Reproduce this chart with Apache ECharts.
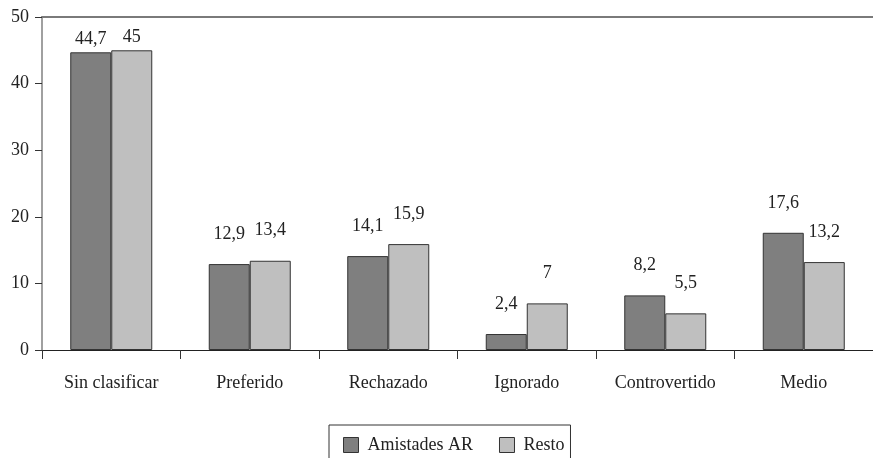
<!DOCTYPE html>
<html>
<head>
<meta charset="utf-8">
<script src="https://cdn.jsdelivr.net/npm/echarts@6/dist/echarts.min.js"></script>
<style>
  html, body { margin: 0; padding: 0; background: #fff; }
  #chart { width: 873px; height: 458px; }
</style>
</head>
<body>
<div id="chart"></div>
<script>
// Categories and series values (percentages)
const categories = ['Sin clasificar', 'Preferido', 'Rechazado', 'Ignorado', 'Controvertido', 'Medio'];
const amistadesAR = [44.7, 12.9, 14.1, 2.4, 8.2, 17.6];
const resto = [45, 13.4, 15.9, 7, 5.5, 13.2];
const yTicks = [0, 10, 20, 30, 40, 50];

const FONT = '"Liberation Serif", "Times New Roman", serif';
const fmt = v => String(v).replace('.', ',');

// labels of tall bars sit closer so they stay under the top frame line
function withLabels(values) {
  return values.map(v => ({
    value: v,
    label: { distance: v > 40 ? 4 : 21 }
  }));
}

function barSeries(name, values, color) {
  return {
    name: name,
    type: 'bar',
    data: withLabels(values),
    barWidth: 41,
    barGap: '0%',
    itemStyle: { color: color, borderColor: '#333', borderWidth: 1 },
    label: {
      show: true,
      position: 'top',
      formatter: p => fmt(p.value),
      color: '#222',
      fontFamily: FONT,
      fontSize: 18
    },
    emphasis: { disabled: true }
  };
}

const chart = echarts.init(document.getElementById('chart'), null, { renderer: 'canvas' });
chart.setOption({
  animation: false,
  backgroundColor: '#fff',
  grid: { left: 42, right: -9, top: 17, bottom: 108, containLabel: false },
  legend: {
    data: ['Amistades AR', 'Resto'],
    left: 329,
    top: 425,
    icon: 'rect',
    itemWidth: 15,
    itemHeight: 15,
    itemGap: 26,
    padding: [11, 6, 20, 14],
    borderColor: '#333',
    borderWidth: 1,
    textStyle: { fontFamily: FONT, fontSize: 18, color: '#222', padding: [0, 0, 0, 4] },
    itemStyle: { borderColor: '#333', borderWidth: 1 }
  },
  xAxis: [
    {
      type: 'category',
      data: categories,
      boundaryGap: true,
      axisLine: { lineStyle: { color: '#222', width: 1 } },
      axisTick: { show: true, length: 9, lineStyle: { color: '#333' } },
      axisLabel: { margin: 24, fontFamily: FONT, fontSize: 18, color: '#222' }
    },
    {
      type: 'category',
      position: 'top',
      data: categories,
      axisLine: { lineStyle: { color: '#7a7a7a', width: 2 } },
      axisTick: { show: false },
      axisLabel: { show: false }
    }
  ],
  yAxis: {
    type: 'value',
    min: yTicks[0],
    max: yTicks[yTicks.length - 1],
    interval: 10,
    axisLine: { show: true, lineStyle: { color: '#808080', width: 1.5 } },
    axisTick: { show: true, length: 7, lineStyle: { color: '#333' } },
    axisLabel: { margin: 13, fontFamily: FONT, fontSize: 18, color: '#222' },
    splitLine: { show: false }
  },
  series: [
    barSeries('Amistades AR', amistadesAR, '#7f7f7f'),
    barSeries('Resto', resto, '#bfbfbf')
  ]
});
</script>
</body>
</html>
